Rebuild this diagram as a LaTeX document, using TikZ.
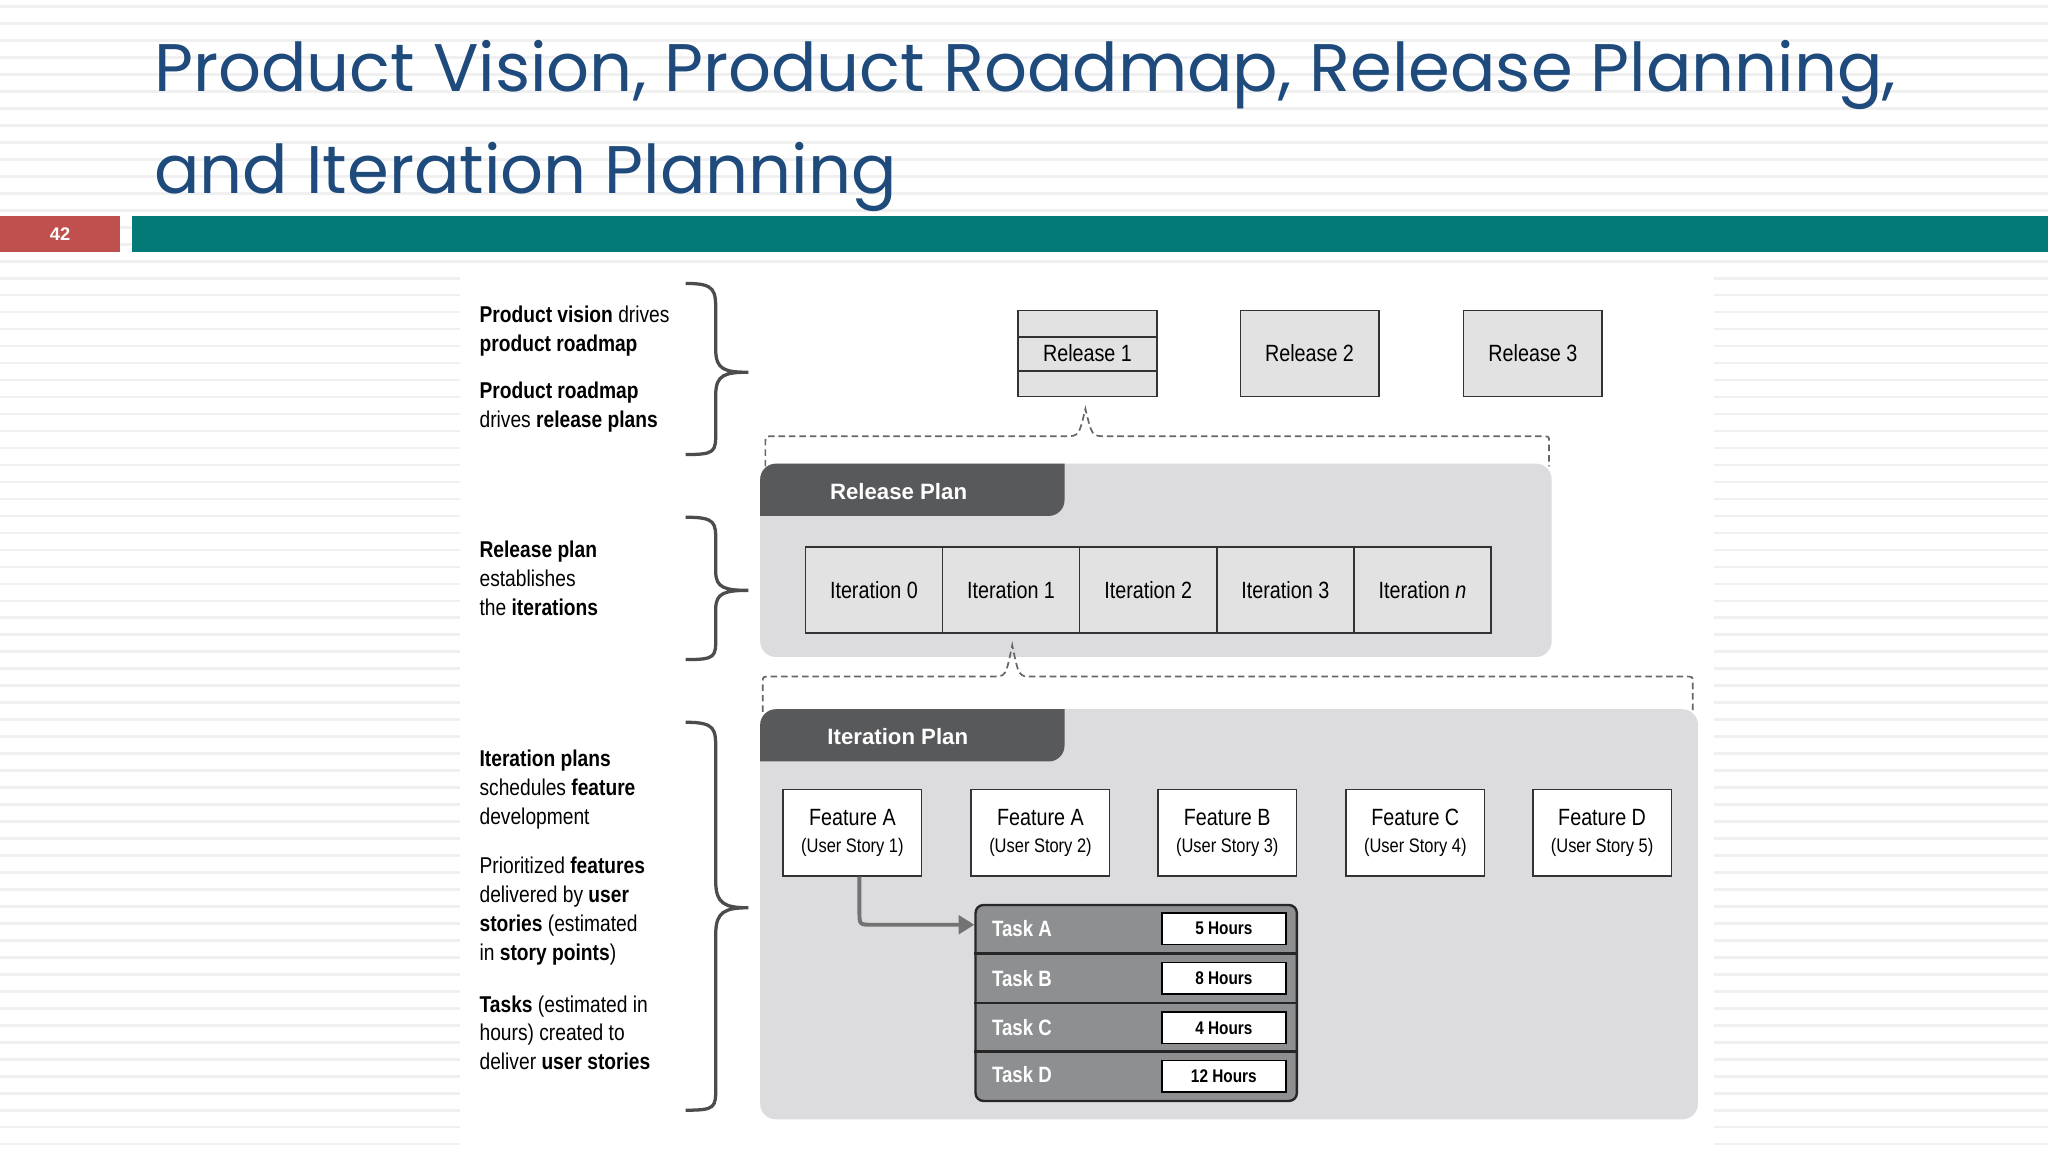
\documentclass[tikz,border=0pt]{standalone}
\usepackage{fontspec}
\setmainfont{Liberation Sans}
\newfontfamily\ttl{Poppins}
\newfontfamily\cond{Liberation Sans}[FakeStretch=0.84]
\usetikzlibrary{arrows.meta}
\definecolor{ttlblue}{HTML}{1F4A7C}
\definecolor{teal1}{HTML}{047A78}
\definecolor{red1}{HTML}{C0504D}
\definecolor{panel}{HTML}{DCDCDE}
\definecolor{hdr}{HTML}{58595B}
\definecolor{taskg}{HTML}{8E8F91}
\definecolor{relg}{HTML}{E2E2E3}
\begin{document}
\begin{tikzpicture}[x=1pt,y=-1pt,
  lt/.style={anchor=base west,inner sep=0,font=\cond\fontsize{17.5}{20}\selectfont},
  box/.style={draw=black!80,line width=1.2pt,font=\cond\fontsize{18}{20}\selectfont},
  feat/.style={box,fill=white,minimum width=106pt,minimum height=66pt,align=center,anchor=north west,inner sep=0},
  iter/.style={box,fill=relg,minimum width=105pt,minimum height=66pt,anchor=north west,inner sep=0},
  hrs/.style={draw=black,line width=1.2pt,fill=white,minimum width=95pt,minimum height=24pt,inner sep=0,font=\cond\bfseries\fontsize{14}{16}\selectfont},
  tsk/.style={anchor=west,text=white,font=\cond\bfseries\fontsize{17}{20}\selectfont},
  dsh/.style={draw=gray!80!black,line width=1.3pt,dash pattern=on 5pt off 3pt},
  brc/.style={draw=gray!60!black,line width=2.5pt}]
\useasboundingbox (0,0) rectangle (1568,882);
\fill[white] (0,0) rectangle (1568,882);
\foreach \y in {5,18,...,882} \draw[black!6,line width=2pt] (0,\y) -- (1568,\y);
\fill[white] (352,205) rectangle (1312,882);
% title
\node[anchor=base west,inner sep=0,text=ttlblue,font=\ttl\fontsize{51.5}{60}\selectfont] (t1) at (118,70) {Product Vision, Product Roadmap, Release Planning,};
\node[anchor=base west,inner sep=0,text=ttlblue,font=\ttl\fontsize{51.5}{60}\selectfont] (t2) at (118,148) {and Iteration Planning};
\fill[red1] (0,165) rectangle (92,193);
\node[text=white,font=\bfseries\fontsize{14}{16}\selectfont] (pg) at (46,179) {42};
\fill[teal1] (101,165) rectangle (1568,193);
% left texts
\node[lt] (l1) at (367,247) {\textbf{Product vision} drives};
\node[lt] (l2) at (367,269) {\textbf{product roadmap}};
\node[lt] (l3) at (367,305) {\textbf{Product roadmap}};
\node[lt] (l4) at (367,327) {drives \textbf{release plans}};
\node[lt] (l5) at (367,427) {\textbf{Release plan}};
\node[lt] (l6) at (367,449) {establishes};
\node[lt] (l7) at (367,471) {the \textbf{iterations}};
\node[lt] (l8) at (367,587) {\textbf{Iteration plans}};
\node[lt] (l9) at (367,609) {schedules \textbf{feature}};
\node[lt] (l10) at (367,631) {development};
\node[lt] (l11) at (367,669) {Prioritized \textbf{features}};
\node[lt] (l12) at (367,691) {delivered by \textbf{user}};
\node[lt] (l13) at (367,713) {\textbf{stories} (estimated};
\node[lt] (l14) at (367,735) {in \textbf{story points})};
\node[lt] (l15) at (367,775) {\textbf{Tasks} (estimated in};
\node[lt] (l16) at (367,797) {hours) created to};
\node[lt] (l17) at (367,819) {deliver \textbf{user stories}};
% braces
\draw[brc] (525,217) .. controls (548,217) and (548,222) .. (548,240) -- (548,268) .. controls (548,283) and (555,285) .. (573,285) .. controls (555,285) and (548,287) .. (548,302) -- (548,330) .. controls (548,346) and (548,348) .. (525,348);
\draw[brc] (525,396) .. controls (548,396) and (548,400) .. (548,415) -- (548,438) .. controls (548,450) and (555,452) .. (573,452) .. controls (555,452) and (548,454) .. (548,466) -- (548,488) .. controls (548,503) and (548,505) .. (525,505);
\draw[brc] (525,553) .. controls (548,553) and (548,558) .. (548,575) -- (548,675) .. controls (548,692) and (555,695) .. (573,695) .. controls (555,695) and (548,698) .. (548,715) -- (548,832) .. controls (548,848) and (548,850) .. (525,850);
% releases
\node[box,fill=relg,minimum width=106pt,minimum height=66pt,anchor=north west,inner sep=0] (r1) at (779,237) {};
\draw[black!80,line width=1.2pt] (779,258) -- (885,258) (779,284) -- (885,284);
\node[font=\cond\fontsize{18}{20}\selectfont] (r1t) at (r1.center) {Release 1};
\node[box,fill=relg,minimum width=106pt,minimum height=66pt,anchor=north west,inner sep=0] (r2) at (949,237) {Release 2};
\node[box,fill=relg,minimum width=106pt,minimum height=66pt,anchor=north west,inner sep=0] (r3) at (1120,237) {Release 3};
\draw[dsh] (586,357) -- (586,338) .. controls (586,334) .. (592,334) -- (815,334) .. controls (826,334) .. (831,313) .. controls (836,334) .. (847,334) -- (1180,334) .. controls (1186,334) .. (1186,338) -- (1186,357);
% release plan panel
\fill[panel,rounded corners=12pt] (582,355) rectangle (1188,503);
\begin{scope}
\clip[rounded corners=12pt] (582,355) rectangle (1188,503);
\fill[hdr] (582,355) -- (815,355) [rounded corners=12pt] -- (815,395) [sharp corners] -- (582,395) -- cycle;
\end{scope}
\node[anchor=west,text=white,font=\bfseries\fontsize{17}{20}\selectfont] (rp) at (632,376) {Release Plan};
\node[iter] (i0) at (616,418) {Iteration 0};
\node[iter] (i1) at (721,418) {Iteration 1};
\node[iter] (i2) at (826,418) {Iteration 2};
\node[iter] (i3) at (931,418) {Iteration 3};
\node[iter] (i4) at (1036,418) {Iteration \textit{n}};
\draw[dsh] (584,545) -- (584,522) .. controls (584,518) .. (590,518) -- (760,518) .. controls (770,518) .. (775,494) .. controls (780,518) .. (790,518) -- (1290,518) .. controls (1296,518) .. (1296,522) -- (1296,545);
% iteration plan panel
\fill[panel,rounded corners=12pt] (582,543) rectangle (1300,857);
\begin{scope}
\clip[rounded corners=12pt] (582,543) rectangle (1300,857);
\fill[hdr] (582,543) -- (815,543) [rounded corners=12pt] -- (815,583) [sharp corners] -- (582,583) -- cycle;
\end{scope}
\node[anchor=west,text=white,font=\bfseries\fontsize{17}{20}\selectfont] (ip) at (630,564) {Iteration Plan};
\node[feat] (fa) at (599,604) {Feature A\\[1pt]{\fontsize{15}{16}\selectfont(User Story 1)}};
\node[feat] (fa2) at (743,604) {Feature A\\[1pt]{\fontsize{15}{16}\selectfont(User Story 2)}};
\node[feat] (fb) at (886,604) {Feature B\\[1pt]{\fontsize{15}{16}\selectfont(User Story 3)}};
\node[feat] (fc) at (1030,604) {Feature C\\[1pt]{\fontsize{15}{16}\selectfont(User Story 4)}};
\node[feat] (fd) at (1173,604) {Feature D\\[1pt]{\fontsize{15}{16}\selectfont(User Story 5)}};
% tasks
\node[draw=black!85,line width=1.8pt,fill=taskg,rounded corners=6pt,minimum width=246pt,minimum height=150pt,anchor=north west,inner sep=0] (tb) at (746,692) {};
\draw[black!85,line width=1.8pt] (746,730) -- (992,730) (746,768) -- (992,768) (746,805) -- (992,805);
\node[tsk] (ta) at (756,711) {Task A};
\node[tsk] (tbb) at (756,749) {Task B};
\node[tsk] (tc) at (756,787) {Task C};
\node[tsk] (td) at (756,823) {Task D};
\node[hrs] (h1) at (937,711) {5 Hours};
\node[hrs] (h2) at (937,749) {8 Hours};
\node[hrs] (h3) at (937,787) {4 Hours};
\node[hrs] (h4) at (937,824) {12 Hours};
\draw[gray!90!black,line width=3pt,-{Triangle[length=12pt,width=14pt]}] (fa.south -| 658,0) -- (658,698) .. controls (658,708) .. (668,708) -- (tb.west |- 0,708);
\end{tikzpicture}
\end{document}
